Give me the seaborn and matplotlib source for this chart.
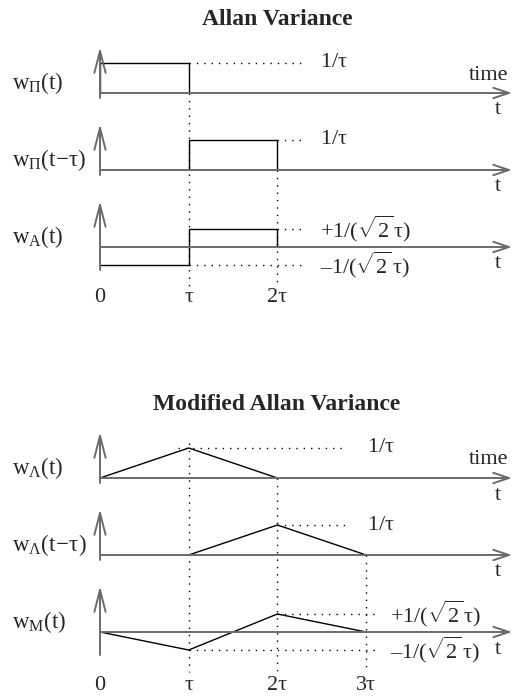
import matplotlib
matplotlib.use("Agg")
import matplotlib.pyplot as plt
import seaborn as sns
import pandas as pd

# weighting functions: t in units of tau, amplitude in units of 1/tau
t_pi = [0, 0, 1, 1]
w_pi = [0, 1, 1, 0]
t_pi_shift = [1, 1, 2, 2]
w_pi_shift = [0, 1, 1, 0]
t_allan = [0, 1, 1, 2, 2]
w_allan = [-0.6, -0.6, 0.6, 0.6, 0]
t_tri = [0, 1, 2]
w_tri = [0, 1, 0]
t_tri_shift = [1, 2, 3]
w_tri_shift = [0, 1, 0]
t_mod = [0, 1, 2, 3]
w_mod = [0, -0.6, 0.6, 0]

row_labels_top = [r"$\mathrm{w_{Π}(t)}$", r"$\mathrm{w_{Π}(t\!-\!τ)}$", r"$\mathrm{w_{A}(t)}$"]
row_labels_bot = [r"$\mathrm{w_{Λ}(t)}$", r"$\mathrm{w_{Λ}(t\!-\!τ)}$", r"$\mathrm{w_{M}(t)}$"]
level_one = r"$\mathrm{1/τ}$"
level_plus = r"$\mathrm{+1/(\sqrt{2}\,τ)}$"
level_minus = r"$\mathrm{–1/(\sqrt{2}\,τ)}$"
ticks_top = ["0", "τ", "2τ"]
ticks_bot = ["0", "τ", "2τ", "3τ"]

sns.set_theme(style="white")
plt.rcParams["font.family"] = ["Liberation Serif", "DejaVu Serif"]
plt.rcParams["mathtext.fontset"] = "custom"
plt.rcParams["mathtext.rm"] = "Liberation Serif"
plt.rcParams["mathtext.it"] = "Liberation Serif:italic"
plt.rcParams["mathtext.bf"] = "Liberation Serif:bold"

PX = 88.7   # pixels per tau
AMP = 30.0  # pixels per 1/tau
H = 696.0

fig = plt.figure(figsize=(5.13, 6.96), dpi=100)
ax = fig.add_axes([0, 0, 1, 1])
ax.set_xlim(-100 / PX, 413 / PX)
ax.set_ylim(0, H / AMP)
ax.axis("off")

def ypx(p):
    return (H - p) / AMP

FS = 16
axis_col = "0.42"

def draw_row(base_px, t, w, label, low=5):
    b = ypx(base_px)
    df = pd.DataFrame({"t": t, "w": [b + v for v in w]})
    sns.lineplot(data=df, x="t", y="w", sort=False, estimator=None,
                 color="black", lw=1.0, ax=ax)
    # time axis
    ax.annotate("", xy=(412 / PX, b), xytext=(0, b),
                arrowprops=dict(arrowstyle="->,head_length=0.75,head_width=0.25",
                                color=axis_col, lw=1.4, shrinkA=0, shrinkB=0,
                                mutation_scale=15))
    # amplitude axis
    ax.annotate("", xy=(0, b + 46 / AMP), xytext=(0, b - low / AMP),
                arrowprops=dict(arrowstyle="->,head_length=1.05,head_width=0.27",
                                color=axis_col, lw=1.4, shrinkA=0, shrinkB=0,
                                mutation_scale=15))
    ax.text(-88 / PX, b + 10 / AMP, label, fontsize=FS + 0.5, ha="left", va="center")
    ax.text(398 / PX, b - 17 / AMP, "t", fontsize=FS, ha="center", va="center")

def dotted_h(t0, t1, level, base_px):
    b = ypx(base_px)
    ax.plot([t0, t1], [b + level, b + level], color="black", lw=1.0,
            linestyle=(0, (1, 4.3)))

def dotted_v(t, top_px, bot_px):
    ax.plot([t, t], [ypx(top_px), ypx(bot_px)], color="black", lw=1.0,
            linestyle=(0, (1, 4.3)))

# ---------------- Allan variance ----------------
ax.text(177 / PX, ypx(20), "Allan Variance", fontsize=17, fontweight="bold",
        ha="center", va="center")
bases_top = [93, 170, 247]
draw_row(bases_top[0], t_pi, w_pi, row_labels_top[0])
draw_row(bases_top[1], t_pi_shift, w_pi_shift, row_labels_top[1])
draw_row(bases_top[2], t_allan, w_allan, row_labels_top[2], low=23)
ax.text(408 / PX, ypx(75), "time", fontsize=FS, ha="right", va="center")

dotted_h(1, 2.31, 1, bases_top[0])
dotted_h(2, 2.31, 1, bases_top[1])
dotted_h(2, 2.31, 0.6, bases_top[2])
dotted_h(1, 2.31, -0.6, bases_top[2])
dotted_v(1, 93, 287)
dotted_v(2, 170, 287)
lx = 2.48
ax.text(lx, ypx(bases_top[0]) + 1, level_one, fontsize=FS, ha="left", va="center")
ax.text(lx, ypx(bases_top[1]) + 1, level_one, fontsize=FS, ha="left", va="center")
ax.text(lx, ypx(bases_top[2]) + 0.6, level_plus, fontsize=FS, ha="left", va="center")
ax.text(lx, ypx(bases_top[2]) - 0.6, level_minus, fontsize=FS, ha="left", va="center")
for i, s in enumerate(ticks_top):
    ax.text(i, ypx(298), s, fontsize=FS, ha="center", va="center")

# ---------------- Modified Allan variance ----------------
ax.text(177 / PX, ypx(405), "Modified Allan Variance", fontsize=17,
        fontweight="bold", ha="center", va="center")
bases_bot = [478, 555, 632]
draw_row(bases_bot[0], t_tri, w_tri, row_labels_bot[0])
draw_row(bases_bot[1], t_tri_shift, w_tri_shift, row_labels_bot[1])
draw_row(bases_bot[2], t_mod, w_mod, row_labels_bot[2], low=23)
ax.text(408 / PX, ypx(460), "time", fontsize=FS, ha="right", va="center")

dotted_h(0.88, 2.78, 1, bases_bot[0])
dotted_h(2, 2.78, 1, bases_bot[1])
dotted_h(2, 3.12, 0.6, bases_bot[2])
dotted_h(1, 3.12, -0.6, bases_bot[2])
dotted_v(1, 443, 672)
dotted_v(2, 478, 672)
dotted_v(3, 555, 672)
ax.text(3.01, ypx(bases_bot[0]) + 1, level_one, fontsize=FS, ha="left", va="center")
ax.text(3.01, ypx(bases_bot[1]) + 1, level_one, fontsize=FS, ha="left", va="center")
ax.text(3.27, ypx(bases_bot[2]) + 0.6, level_plus, fontsize=FS, ha="left", va="center")
ax.text(3.27, ypx(bases_bot[2]) - 0.6, level_minus, fontsize=FS, ha="left", va="center")
for i, s in enumerate(ticks_bot):
    ax.text(i, ypx(685), s, fontsize=FS, ha="center", va="center")

fig.savefig("out.png", dpi=100)
